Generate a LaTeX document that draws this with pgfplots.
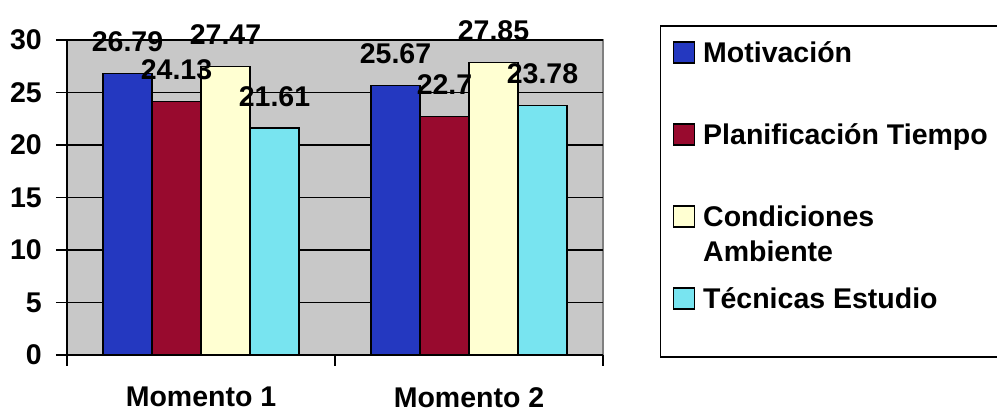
\documentclass[border=0pt]{standalone}
\usepackage{pgfplots}
\pgfplotsset{compat=1.18}
\usepackage{fontspec}
\setmainfont{Liberation Sans}

\definecolor{cBlue}{RGB}{36,56,192}
\definecolor{cRed}{RGB}{152,10,46}
\definecolor{cYellow}{RGB}{255,255,210}
\definecolor{cCyan}{RGB}{120,228,240}
\definecolor{plotbg}{RGB}{200,200,200}

\begin{document}
\begin{tikzpicture}[font=\fontsize{28.5}{35}\selectfont\bfseries]
\useasboundingbox (0,0) rectangle (997pt,414pt);
\begin{axis}[
    at={(67pt,59pt)}, anchor=south west,
    scale only axis, width=536pt, height=315pt,
    xmin=0.5, xmax=2.5, ymin=0, ymax=30,
    ybar=0pt, bar width=49pt,
    axis x line*=bottom, axis y line*=left,
    axis line style={black, line width=1.5pt},
    axis background/.style={fill=plotbg, draw=gray, line width=1.5pt},
    tick align=outside, major tick length=11pt,
    tick style={black, line width=1.5pt},
    ytick={0,5,...,30},
    ymajorgrids=true, grid style={black, line width=1.5pt},
    xtick={0.5,1.5,2.5}, xticklabels={},
    extra x ticks={1,2}, extra x tick labels={Momento 1,Momento 2},
    extra x tick style={major tick length=0pt, grid=none,
        xticklabel style={inner sep=0pt, anchor=north, yshift=-32pt}},
    yticklabel style={inner sep=0pt, anchor=east, xshift=-14pt},
    /pgf/number format/assume math mode=true,
    nodes near coords,
    nodes near coords style={inner sep=0pt, anchor=south, yshift=21pt},
    every axis plot post/.append style={draw=black, line width=1.5pt,
        legend image code/.code={\draw[##1, draw=black, line width=1.5pt] (0pt,0pt) rectangle (21pt,21pt);}},
    legend style={at={(1.1063,1.0476)}, anchor=north west, draw=black, line width=1.5pt,
        inner xsep=12pt, inner ysep=11pt, row sep=0pt,
        cells={anchor=base west},
        nodes={inner sep=0pt, text height=26pt, text depth=56pt},
        /tikz/every odd column/.append style={column sep=8pt}},
]
\addplot[fill=cBlue] coordinates {(1,26.79) (2,25.67)};
\addlegendentry{Motivación}
\addplot[fill=cRed] coordinates {(1,24.13) (2,22.7)};
\addlegendentry{Planificación Tiempo}
\addplot[fill=cYellow] coordinates {(1,27.47) (2,27.85)};
\addlegendentry{\begin{tabular}[t]{@{}l@{}}Condiciones\\Ambiente\end{tabular}}
\addplot[fill=cCyan] coordinates {(1,21.61) (2,23.78)};
\addlegendentry[text depth=37pt]{Técnicas Estudio}
\end{axis}
\end{tikzpicture}
\end{document}
